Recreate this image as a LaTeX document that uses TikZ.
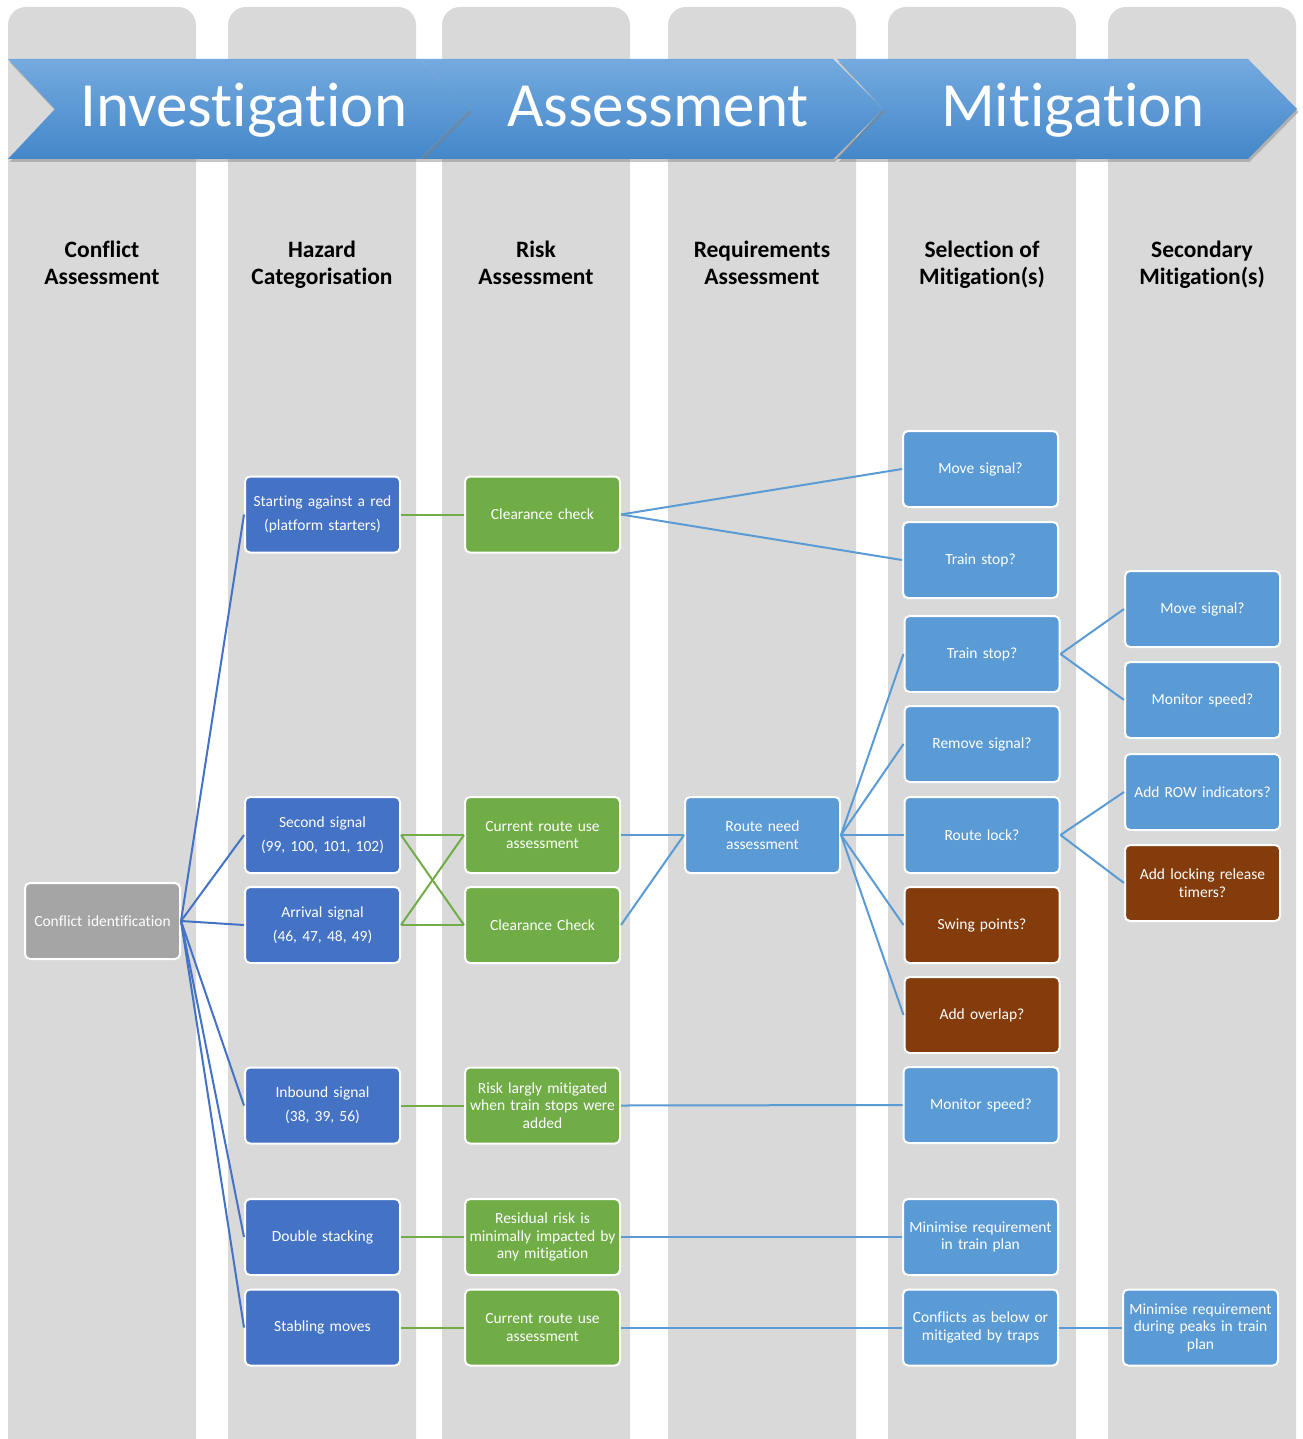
\documentclass[tikz,border=0pt]{standalone}
\usepackage{fontspec}
\setmainfont{Carlito}[Ligatures=NoCommon]
\usetikzlibrary{shadows}
\definecolor{lane}{HTML}{D9D9D9}
\definecolor{cgray}{HTML}{A5A5A5}
\definecolor{dblue}{HTML}{4472C4}
\definecolor{mblue}{HTML}{5B9BD5}
\definecolor{cgreen}{HTML}{70AD47}
\definecolor{cbrown}{HTML}{843C0C}
\definecolor{bantop}{HTML}{74AADF}
\definecolor{banbot}{HTML}{4487C9}
\tikzset{
  box/.style={draw=white, line width=2pt, rounded corners=5pt, minimum width=155pt,
    minimum height=76pt, text width=154pt, align=center,
    font=\fontsize{15.5}{17.5}\selectfont, text=white, inner sep=0pt},
  wide/.style={font=\fontsize{15.5}{24}\selectfont},
  graybox/.style={box, fill=cgray},
  dbox/.style={box, fill=dblue},
  gbox/.style={box, fill=cgreen},
  mbox/.style={box, fill=mblue},
  bbox/.style={box, fill=cbrown},
  lanebg/.style={fill=lane, rounded corners=18pt},
  chev/.style={top color=bantop, bottom color=banbot, draw=none,
    drop shadow={opacity=0.45, shadow xshift=1.5pt, shadow yshift=-3pt}},
  bantext/.style={text=white, font=\fontsize{63}{63}\selectfont, anchor=base, inner sep=0pt},
  head/.style={font=\bfseries\fontsize{23.5}{27}\selectfont, align=center, anchor=center},
  dl/.style={draw=dblue, line width=2pt},
  gl/.style={draw=cgreen, line width=2pt},
  ml/.style={draw=mblue, line width=2pt},
}
\begin{document}
\begin{tikzpicture}[x=1pt, y=-1pt]
\useasboundingbox (0,0) rectangle (1302,1439);
\begin{scope}
\clip (0,0) rectangle (1302,1439);
\foreach \xa in {8,228,442,668,888,1108} {
  \fill[lanebg] (\xa,7) rectangle ++(188,1480);
}
\end{scope}
% banner
\path[chev] (837,59) -- (1248,59) -- (1297,109) -- (1248,159) -- (837,159) -- (883,109) -- cycle;
\path[chev] (420,59) -- (833,59) -- (883,109) -- (833,159) -- (420,159) -- (470,109) -- cycle;
\path[chev] (8,59) -- (420,59) -- (470,109) -- (420,159) -- (8,159) -- (55,109) -- cycle;
\node[bantext] (b1) at (244,127) {Investigation};
\node[bantext] (b2) at (658,127) {Assessment};
\node[bantext] (b3) at (1073,127) {Mitigation};
% headers
\node[head] (h1) at (102,266) {Conflict\strut\\Assessment\strut};
\node[head] (h2) at (322,266) {Hazard\strut\\Categorisation\strut};
\node[head] (h3) at (536,266) {Risk\strut\\Assessment\strut};
\node[head] (h4) at (762,266) {Requirements\strut\\Assessment\strut};
\node[head] (h5) at (982,266) {Selection of\strut\\Mitigation(s)\strut};
\node[head] (h6) at (1202,266) {Secondary\strut\\Mitigation(s)\strut};
% column 1
\node[graybox] (ci) at (102.5,921) {Conflict identification};
% column 2
\node[dbox, wide] (s1) at (322.5,514.5) {Starting against a red\\(platform starters)};
\node[dbox, wide] (s2) at (322.5,835) {Second signal\\(99, 100, 101, 102)};
\node[dbox, wide] (s3) at (322.5,925) {Arrival signal\\(46, 47, 48, 49)};
\node[dbox, wide] (s4) at (322.5,1105.5) {Inbound signal\\(38, 39, 56)};
\node[dbox] (s5) at (322.5,1237) {Double stacking};
\node[dbox] (s6) at (322.5,1327.5) {Stabling moves};
% column 3
\node[gbox] (r1) at (542.5,514.5) {Clearance check};
\node[gbox] (r2) at (542.5,835) {Current route use\\assessment};
\node[gbox] (r3) at (542.5,925) {Clearance Check};
\node[gbox] (r4) at (542.5,1105.5) {Risk largly mitigated\\when train stops were\\added};
\node[gbox] (r5) at (542.5,1237) {Residual risk is\\minimally impacted by\\any mitigation};
\node[gbox] (r6) at (542.5,1327.5) {Current route use\\assessment};
% column 4
\node[mbox] (q1) at (762.5,835) {Route need\\assessment};
% column 5
\node[mbox] (m1) at (980.5,469) {Move signal?};
\node[mbox] (m2) at (980.5,560) {Train stop?};
\node[mbox] (m3) at (982,654) {Train stop?};
\node[mbox] (m4) at (982,744) {Remove signal?};
\node[mbox] (m5) at (982,835) {Route lock?};
\node[bbox] (m6) at (982,925) {Swing points?};
\node[bbox] (m7) at (982,1015) {Add overlap?};
\node[mbox] (m8) at (981,1105) {Monitor speed?};
\node[mbox] (m9) at (980.5,1237) {Minimise requirement\\in train plan};
\node[mbox] (m10) at (980.5,1327.5) {Conflicts as below or\\mitigated by traps};
% column 6
\node[mbox] (n1) at (1202.5,609) {Move signal?};
\node[mbox] (n2) at (1202.5,700) {Monitor speed?};
\node[mbox] (n3) at (1202.5,792) {Add ROW indicators?};
\node[bbox] (n4) at (1202.5,883) {Add locking release\\timers?};
\node[mbox] (n5) at (1200.5,1327.5) {Minimise requirement\\during peaks in train\\plan};
% connectors column 1 -> 2
\foreach \t in {s1,s2,s3,s4,s5,s6} {
  \draw[dl] (ci.east) -- (\t.west);
}
% column 2 -> 3
\draw[gl] (s1.east) -- (r1.west);
\draw[gl] (s2.east) -- (r2.west);
\draw[gl] (s3.east) -- (r3.west);
\draw[gl] (s2.east) -- (r3.west);
\draw[gl] (s3.east) -- (r2.west);
\draw[gl] (s4.east) -- (r4.west);
\draw[gl] (s5.east) -- (r5.west);
\draw[gl] (s6.east) -- (r6.west);
% column 3 -> 4/5
\draw[ml] (r1.east) -- (m1.west);
\draw[ml] (r1.east) -- (m2.west);
\draw[ml] (r2.east) -- (q1.west);
\draw[ml] (r3.east) -- (q1.west);
\draw[ml] (r4.east) -- (m8.west);
\draw[ml] (r5.east) -- (m9.west);
\draw[ml] (r6.east) -- (m10.west);
% column 4 -> 5
\foreach \t in {m3,m4,m5,m6,m7} {
  \draw[ml] (q1.east) -- (\t.west);
}
% column 5 -> 6
\draw[ml] (m3.east) -- (n1.west);
\draw[ml] (m3.east) -- (n2.west);
\draw[ml] (m5.east) -- (n3.west);
\draw[ml] (m5.east) -- (n4.west);
\draw[ml] (m10.east) -- (n5.west);
\end{tikzpicture}
\end{document}
